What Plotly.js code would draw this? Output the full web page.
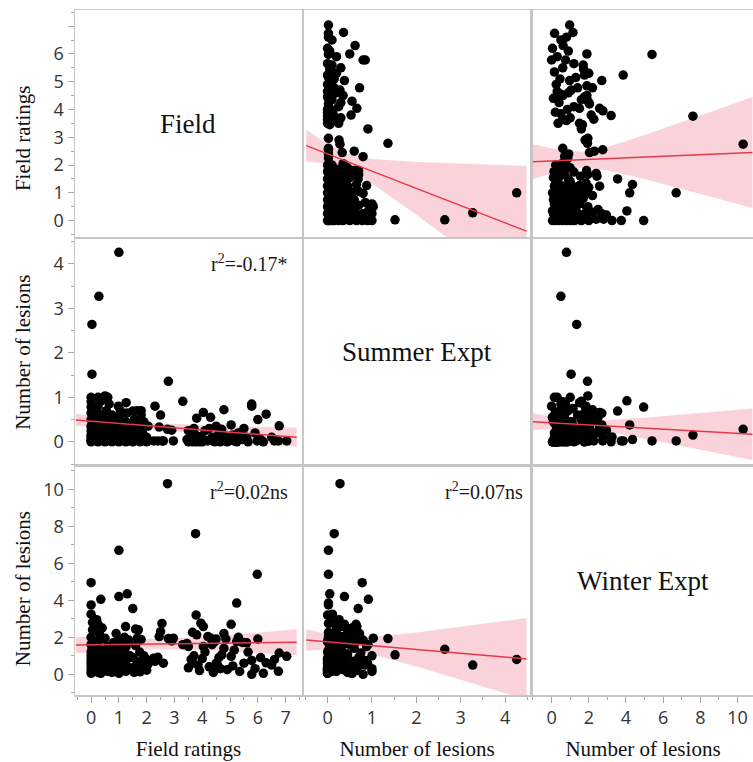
<!DOCTYPE html>
<html><head><meta charset="utf-8">
<script src="https://cdn.plot.ly/plotly-3.0.1.min.js"></script>
<style>html,body{margin:0;padding:0;background:#fff;} #chart{width:753px;height:762px;}</style>
</head><body><div id="chart"></div>
<script>
// ---- observations (one entry per plot) ----
const fieldRatings = [
 7.04, 6.77, 6.74, 6.30, 6.00, 5.98, 5.78, 5.78, 5.60, 5.45,
 5.30, 5.24, 5.24, 5.04, 5.04, 4.78, 4.78, 4.65, 4.55, 4.60,
 4.50, 4.45, 4.30, 4.04, 4.04, 3.90, 3.85, 3.60, 3.50, 3.80,
 3.78, 3.76, 3.50, 3.30, 3.45, 3.65, 3.70, 3.95, 4.00, 4.10,
 4.20, 4.25, 4.35, 4.40, 4.70, 4.85, 4.90, 5.10, 5.15, 5.35,
 5.50, 5.65, 5.90, 6.10, 6.20, 6.50, 6.60, 3.65, 4.50, 2.78,
 2.75, 2.90, 2.55, 2.50, 2.45, 2.40, 2.30, 2.25, 2.60, 2.96,
 1.00, 0.28, 0.03, 0.03, 1.00, 0.00, 0.35, 1.00, 1.30, 1.50,
 0.00, 0.00, 0.20, 0.25, 1.24, 1.60, 1.70, 0.50, 0.98, 1.26,
 1.76, 2.00, 1.80, 1.10, 1.66, 0.00, 0.00, 0.00, 0.00, 0.00,
 0.00, 0.00, 0.00, 0.00, 0.05, 0.05, 0.25, 0.25, 0.25, 0.25,
 0.25, 0.25, 0.30, 0.30, 0.50, 0.50, 0.50, 0.50, 0.55, 0.60,
 0.60, 0.75, 0.75, 0.75, 0.75, 0.80, 1.00, 1.00, 1.00, 1.00,
 1.05, 1.25, 1.25, 1.25, 1.30, 1.50, 1.50, 1.55, 1.75, 1.75,
 1.80, 2.00, 2.05, 1.20, 0.40, 0.10, 0.10, 0.15, 0.40, 0.40,
 0.45, 0.65, 0.70, 0.85, 0.90, 1.10, 1.15, 1.35, 1.40, 1.60,
 1.65, 1.85, 1.90, 0.15, 0.65, 0.35, 0.90
];
const summerLesions = [
 0.02, 0.36, 0.02, 0.62, 0.50, 0.02, 0.80, 0.85, 0.10, 0.05,
 0.20, 0.00, 0.02, 0.38, 0.10, 0.72, 0.15, 0.00, 0.05, 0.20,
 0.10, 0.00, 0.55, 0.66, 0.05, 0.00, 0.10, 0.20, 0.00, 0.53,
 0.00, 0.15, 0.25, 0.91, 0.05, 0.00, 0.30, 0.12, 0.00, 0.25,
 0.02, 0.30, 0.10, 0.02, 0.28, 0.05, 0.00, 0.15, 0.02, 0.10,
 0.30, 0.00, 0.20, 0.05, 0.00, 0.10, 0.02, 0.02, 0.35, 1.36,
 0.28, 0.26, 0.02, 0.60, 0.33, 0.02, 0.80, 0.02, 0.02, 0.02,
 4.26, 3.27, 2.64, 1.52, 0.02, 0.78, 0.92, 0.38, 0.05, 0.69,
 0.02, 0.11, 0.26, 0.64, 0.30, 0.45, 0.20, 1.03, 0.80, 0.88,
 0.00, 0.10, 0.60, 0.65, 0.70, 0.00, 0.05, 0.15, 0.25, 0.35,
 0.50, 0.65, 0.90, 1.00, 0.45, 0.10, 0.00, 0.20, 0.40, 0.60,
 0.80, 1.00, 0.05, 0.30, 0.00, 0.15, 0.30, 0.50, 0.70, 1.00,
 0.10, 0.00, 0.20, 0.45, 0.60, 0.30, 0.00, 0.15, 0.30, 0.55,
 0.70, 0.00, 0.20, 0.45, 0.65, 0.00, 0.25, 0.50, 0.05, 0.30,
 0.70, 0.00, 0.35, 0.10, 0.55, 0.05, 0.20, 0.35, 0.10, 0.25,
 0.40, 0.05, 0.35, 0.10, 0.50, 0.05, 0.25, 0.35, 0.10, 0.15,
 0.40, 0.20, 0.45, 0.75, 0.85, 0.55, 0.20
];
const winterLesions = [
 0.97, 1.15, 0.16, 0.62, 1.90, 5.40, 0.00, 0.75, 1.70, 1.72,
 2.00, 1.77, 3.85, 2.70, 0.97, 2.20, 1.40, 0.30, 0.50, 0.90,
 0.60, 1.77, 1.96, 2.58, 1.50, 0.20, 0.50, 0.80, 0.35, 2.13,
 3.20, 7.60, 1.50, 1.60, 1.66, 0.60, 1.00, 2.76, 0.85, 1.20,
 2.04, 0.40, 1.60, 0.10, 1.05, 1.90, 0.25, 0.45, 1.30, 0.15,
 0.60, 1.20, 0.30, 0.90, 0.05, 0.50, 0.80, 2.27, 1.90, 1.93,
 10.30, 1.80, 2.75, 2.30, 2.04, 0.92, 0.70, 0.87, 0.60, 1.95,
 0.80, 0.50, 1.35, 1.05, 6.70, 4.95, 4.05, 4.20, 4.35, 3.55,
 3.75, 3.25, 2.95, 2.70, 2.58, 2.44, 2.40, 1.95, 1.85, 1.50,
 0.13, 0.22, 1.88, 1.77, 1.95, 0.05, 0.40, 0.80, 1.20, 1.60,
 2.00, 0.20, 0.60, 1.00, 2.40, 2.80, 0.10, 0.55, 1.00, 1.40,
 1.80, 0.30, 2.20, 0.75, 0.20, 0.60, 1.10, 0.35, 0.90, 0.15,
 1.50, 0.50, 1.25, 0.10, 0.70, 1.70, 0.30, 0.90, 1.40, 0.05,
 0.60, 0.70, 0.15, 1.10, 0.40, 0.35, 0.90, 0.10, 0.60, 1.20,
 0.45, 0.80, 0.55, 2.00, 2.50, 0.30, 1.70, 0.90, 0.45, 1.30,
 1.90, 0.85, 0.25, 1.05, 1.60, 1.30, 0.50, 1.85, 1.00, 1.55,
 0.70, 0.30, 1.00, 1.15, 0.50, 0.05, 2.20
];

// ---- labels ----
const diagonalLabels = ['Field', 'Summer Expt', 'Winter Expt'];
const axisTitles = ['Field ratings', 'Number of lesions', 'Number of lesions'];
const tickValues = [[0,1,2,3,4,5,6,7], [0,1,2,3,4], [0,2,4,6,8,10]];
const xTickText = [['0','1','2','3','4','5','6','7'], ['0','1','2','3','4'], ['0','2','4','6','8','10']];
const yTickText = [['0','1','2','3','4','5','6',''], ['0','1','2','3','4'], ['0','2','4','6','8','10']];
const rSquaredText = ['r<sup>2</sup>=-0.17*', 'r<sup>2</sup>=0.02ns', 'r<sup>2</sup>=0.07ns'];
const yTitleCenters = [0.813, 0.501, 0.156];   // paper-y of the rotated row titles

// ---- fitted lines and confidence bands ----
// field on summer
const fitFS_x  = [-0.48, 0, 0.4, 1, 2, 3, 4, 4.48];
const fitFS_hi = [3.27, 2.75, 2.42, 2.22, 2.11, 2.05, 1.99, 1.97];
const fitFS_lo = [2.13, 2.05, 1.88, 1.34, 0.21, -0.97, -2.15, -2.72];
const fitFS_line = [2.70, -0.38];
// field on winter
const fitFW_x  = [-1, 0, 1.6, 3, 5, 7, 9, 10.8];
const fitFW_hi = [2.75, 2.60, 2.48, 2.65, 3.08, 3.54, 4.02, 4.45];
const fitFW_lo = [1.49, 1.70, 1.90, 1.81, 1.50, 1.14, 0.78, 0.45];
const fitFW_line = [2.12, 2.45];
// summer on field
const fitSF_x  = [-0.55, 0, 1, 2.3, 4, 5.5, 7.4];
const fitSF_hi = [0.63, 0.58, 0.50, 0.42, 0.37, 0.34, 0.32];
const fitSF_lo = [0.36, 0.35, 0.33, 0.28, 0.17, 0.05, -0.12];
const fitSF_line = [0.49, 0.10];
// summer on winter
const fitSW_x  = [-1, 0, 1.6, 3, 5, 7, 9, 10.8];
const fitSW_hi = [0.64, 0.57, 0.49, 0.49, 0.54, 0.61, 0.68, 0.75];
const fitSW_lo = [0.26, 0.29, 0.29, 0.23, 0.08, -0.09, -0.26, -0.41];
const fitSW_line = [0.45, 0.17];
// winter on field
const fitWF_x  = [-0.55, 0, 1, 2.3, 4, 5.5, 7.4];
const fitWF_hi = [2.03, 1.99, 1.93, 1.91, 2.02, 2.19, 2.43];
const fitWF_lo = [1.13, 1.19, 1.29, 1.35, 1.32, 1.21, 1.03];
const fitWF_line = [1.58, 1.73];
// winter on summer
const fitWS_x  = [-0.48, 0, 0.4, 1, 2, 3, 4, 4.48];
const fitWS_hi = [2.43, 2.16, 2.02, 2.01, 2.26, 2.56, 2.88, 3.04];
const fitWS_lo = [1.27, 1.34, 1.32, 1.07, 0.42, -0.30, -1.02, -1.38];
const fitWS_line = [1.85, 0.83];

// ---- assembly ----
const variables = [fieldRatings, summerLesions, winterLesions];
const fits = {
  '0,1': [fitFS_x, fitFS_lo, fitFS_hi, fitFS_line],
  '0,2': [fitFW_x, fitFW_lo, fitFW_hi, fitFW_line],
  '1,0': [fitSF_x, fitSF_lo, fitSF_hi, fitSF_line],
  '1,2': [fitSW_x, fitSW_lo, fitSW_hi, fitSW_line],
  '2,0': [fitWF_x, fitWF_lo, fitWF_hi, fitWF_line],
  '2,1': [fitWS_x, fitWS_lo, fitWS_hi, fitWS_line]
};
const rSquaredPanels = {'1,0': 0, '2,0': 1, '2,1': 2};

const xDomains = [[0, 0.3348], [0.3378, 0.6711], [0.6755, 1]];
const yDomains = [[0.6686, 1], [0.3372, 0.6657], [0, 0.3328]];
const axisRanges = [[-0.58, 7.59], [-0.53, 4.56], [-1.0, 10.83]];
const yAxisRanges = [[-0.59, 7.58], [-0.5, 4.56], [-1.12, 11.2]];
const minorStep = [0.5, 0.5, 1];

const serif = 'Liberation Serif, Times New Roman, serif';
const sans = 'Open Sans, Noto Sans, sans-serif';
const borderColor = '#c6c6c6';
const tickColor = '#a6a6a6';
const bandColor = '#fad3da';
const lineColor = '#e5394a';

const traces = [];
const layout = {
  width: 753, height: 762,
  margin: {l: 75, r: 0, t: 10, b: 67},
  paper_bgcolor: '#fff', plot_bgcolor: '#fff',
  showlegend: false,
  font: {family: sans, color: '#333'},
  annotations: []
};

for (let r = 0; r < 3; r++) {
  for (let c = 0; c < 3; c++) {
    const p = r * 3 + c + 1;
    const xr = p === 1 ? 'x' : 'x' + p;
    const yr = p === 1 ? 'y' : 'y' + p;
    const xa = {
      domain: xDomains[c], range: axisRanges[c], anchor: yr,
      showline: true, mirror: true, linecolor: borderColor, linewidth: 1.5,
      showgrid: false, zeroline: false, fixedrange: true,
      ticks: '', showticklabels: false
    };
    const ya = {
      domain: yDomains[r], range: yAxisRanges[r], anchor: xr,
      showline: true, mirror: true, linecolor: borderColor, linewidth: 1.5,
      showgrid: false, zeroline: false, fixedrange: true,
      ticks: '', showticklabels: false
    };
    if (r === 2) {
      Object.assign(xa, {
        ticks: 'outside', showticklabels: true, tickmode: 'array',
        tickvals: tickValues[c], ticktext: xTickText[c],
        ticklen: 6, tickwidth: 1, tickcolor: tickColor,
        tickfont: {family: sans, size: 18, color: '#333'},
        minor: {ticks: 'outside', tick0: 0, dtick: minorStep[c], ticklen: 3, tickwidth: 1, tickcolor: tickColor, showgrid: false},
        title: {text: axisTitles[c], font: {family: serif, size: 21, color: '#111'}, standoff: 13}
      });
    }
    if (c === 0) {
      Object.assign(ya, {
        ticks: 'outside', showticklabels: true, tickmode: 'array',
        tickvals: tickValues[r], ticktext: yTickText[r],
        ticklen: 6, tickwidth: 1, tickcolor: tickColor,
        tickfont: {family: sans, size: 18, color: '#333'},
        minor: {ticks: 'outside', tick0: 0, dtick: minorStep[r], ticklen: 3, tickwidth: 1, tickcolor: tickColor, showgrid: false}
      });
      layout.annotations.push({
        text: axisTitles[r], textangle: -90, xref: 'paper', yref: 'paper',
        x: -0.0767, y: yTitleCenters[r], xanchor: 'center', yanchor: 'middle', showarrow: false,
        font: {family: serif, size: 21, color: '#111'}
      });
    }
    layout[p === 1 ? 'xaxis' : 'xaxis' + p] = xa;
    layout[p === 1 ? 'yaxis' : 'yaxis' + p] = ya;

    if (r === c) {
      traces.push({type: 'scatter', mode: 'markers', xaxis: xr, yaxis: yr, x: [], y: [], hoverinfo: 'skip'});
      layout.annotations.push({
        text: diagonalLabels[r], xref: xr + ' domain', yref: yr + ' domain',
        x: 0.5, y: 0.5, showarrow: false,
        font: {family: serif, size: 27, color: '#111'}
      });
      continue;
    }
    const key = r + ',' + c;
    const f = fits[key];
    const bx = f[0], lo = f[1], hi = f[2], ln = f[3];
    traces.push({
      type: 'scatter', mode: 'lines', xaxis: xr, yaxis: yr,
      x: bx.concat(bx.slice().reverse()),
      y: hi.concat(lo.slice().reverse()),
      fill: 'toself', fillcolor: bandColor, line: {width: 0}, hoverinfo: 'skip'
    });
    traces.push({
      type: 'scatter', mode: 'markers', xaxis: xr, yaxis: yr,
      x: variables[c], y: variables[r],
      marker: {color: '#000', size: 9.5}
    });
    traces.push({
      type: 'scatter', mode: 'lines', xaxis: xr, yaxis: yr,
      x: [bx[0], bx[bx.length - 1]], y: ln,
      line: {color: lineColor, width: 1.5}, hoverinfo: 'skip'
    });
    if (key in rSquaredPanels) {
      layout.annotations.push({
        text: rSquaredText[rSquaredPanels[key]], xref: xr + ' domain', yref: yr + ' domain',
        x: 1, y: 1, xanchor: 'right', yanchor: 'top', xshift: c === 1 ? -5 : -12, yshift: -10,
        showarrow: false, font: {family: serif, size: 20, color: '#1a1a1a'}
      });
    }
  }
}

Plotly.newPlot('chart', traces, layout, {displayModeBar: false, staticPlot: true});
</script>
</body></html>
